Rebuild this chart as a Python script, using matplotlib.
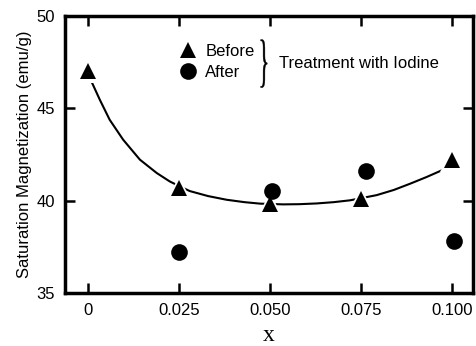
import numpy as np
import matplotlib.pyplot as plt
import matplotlib.transforms as mtransforms
from matplotlib.lines import Line2D
from matplotlib.textpath import TextPath
from matplotlib.patches import PathPatch
from matplotlib.font_manager import FontProperties

plt.rcParams['font.family'] = ['Liberation Sans', 'DejaVu Sans']

# data
x_before = [0.0, 0.025, 0.050, 0.075, 0.100]
y_before = [47.0, 40.7, 39.8, 40.1, 42.2]
x_after = [0.025, 0.0505, 0.0765, 0.1005]
y_after = [37.2, 40.55, 41.6, 37.8]

# hand-drawn trend curve through the "before" points
curve_x = [0.0010, 0.0033, 0.0060, 0.0097, 0.0143, 0.0189, 0.0225, 0.0255,
           0.0280, 0.0330, 0.0381, 0.0430, 0.0473, 0.0536, 0.0580, 0.0628,
           0.0675, 0.0720, 0.0793, 0.0840, 0.0885, 0.0930, 0.0976]
curve_y = [46.45, 45.46, 44.38, 43.30, 42.22, 41.50, 41.04, 40.75,
           40.52, 40.25, 40.05, 39.92, 39.84, 39.80, 39.81, 39.85,
           39.92, 40.02, 40.30, 40.58, 40.92, 41.28, 41.68]

xticks = [0, 0.025, 0.050, 0.075, 0.100]
xticklabels = ['0', '0.025', '0.050', '0.075', '0.100']
yticks = [35, 40, 45, 50]

fig = plt.figure(figsize=(4.77, 3.46), dpi=100)
ax = fig.add_axes([0.136, 0.153, 0.856, 0.801])

ax.plot(curve_x, curve_y, color='k', lw=1.5, zorder=2,
        solid_joinstyle='round', solid_capstyle='round')
# white halo so the curve stops short of the triangles
ax.plot(x_before, y_before, '^', color='white', ms=17, mew=0, zorder=3)
ax.plot(x_after, y_after, 'o', color='k', ms=12, mew=0, zorder=4)
ax.plot(x_before, y_before, '^', color='k', ms=12, mew=0, zorder=5)

ax.set_xlim(-0.0063, 0.1058)
ax.set_ylim(35, 50)
ax.set_xticks(xticks)
ax.set_xticklabels(xticklabels)
ax.set_yticks(yticks)
ax.tick_params(direction='in', length=7, width=1.8, labelsize=12, pad=7,
               top=True, right=True)
for s in ax.spines.values():
    s.set_linewidth(2.5)

ax.set_ylabel('Saturation Magnetization (emu/g)', fontsize=12, labelpad=3)
ax.set_xlabel('x', fontsize=17, family='Liberation Serif', labelpad=5)

handles = [Line2D([], [], marker='^', ls='none', color='k', ms=12, mew=0),
           Line2D([], [], marker='o', ls='none', color='k', ms=12, mew=0)]
ax.legend(handles, ['Before', 'After'], loc='center left',
          bbox_to_anchor=(0.26, 0.835), frameon=False, fontsize=12,
          handlelength=1.0, handletextpad=0.55, labelspacing=0.35,
          borderpad=0)

# tall thin brace joining the two legend entries
tp = TextPath((0, 0), '}', size=1, prop=FontProperties(family='Liberation Serif'))
bb = tp.get_extents()
brace_tr = (mtransforms.Affine2D()
            .translate(-(bb.x0 + bb.x1) / 2, -(bb.y0 + bb.y1) / 2)
            .scale(0.065 / bb.width, 0.48 / bb.height)
            + fig.dpi_scale_trans
            + mtransforms.ScaledTranslation(0.4875, 0.828, ax.transAxes))
ax.add_patch(PathPatch(tp, transform=brace_tr, facecolor='k',
                       edgecolor='k', lw=0.3, clip_on=False))
ax.text(0.525, 0.83, 'Treatment with Iodine', transform=ax.transAxes,
        fontsize=12, va='center', ha='left')

fig.savefig('out.png', dpi=100)
